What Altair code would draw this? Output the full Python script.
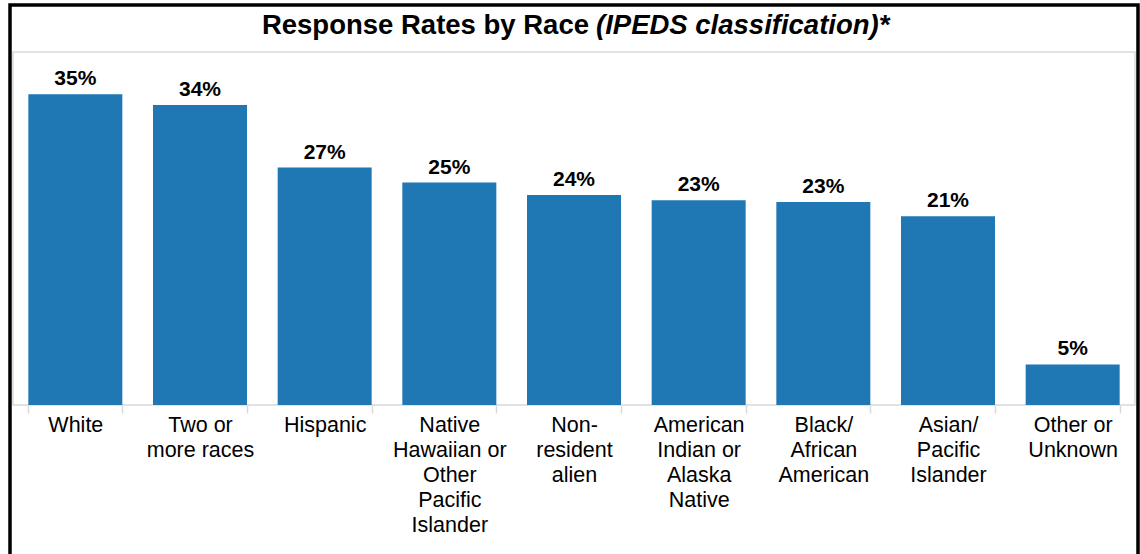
import altair as alt
import pandas as pd

categories = [
    "White",
    "Two or\nmore races",
    "Hispanic",
    "Native\nHawaiian or\nOther\nPacific\nIslander",
    "Non-\nresident\nalien",
    "American\nIndian or\nAlaska\nNative",
    "Black/\nAfrican\nAmerican",
    "Asian/\nPacific\nIslander",
    "Other or\nUnknown",
]
rates = [35.2, 34.0, 26.9, 25.2, 23.8, 23.2, 23.0, 21.4, 4.6]

title_main = "Response Rates by Race"
title_italic = "(IPEDS classification)*"

FONT = "Liberation Sans"
W, H = 1122, 353

df = pd.DataFrame({"race": categories, "rate": rates})

x_enc = alt.X(
    "race:N",
    sort=None,
    title=None,
    scale=alt.Scale(paddingInner=0.246, paddingOuter=0.123),
    axis=alt.Axis(
        labelAngle=0,
        labelExpr="split(datum.label, '\\n')",
        labelFont=FONT,
        labelFontSize=21.5,
        labelColor="#000000",
        labelLineHeight=25,
        labelPadding=1,
        labelLimit=300,
        labelOverlap=False,
        labelBaseline="top",
        tickBand="extent",
        tickSize=8,
        tickColor="#d9d9d9",
        tickWidth=1.5,
        domain=False,
        grid=False,
    ),
)
y_enc = alt.Y("rate:Q", scale=alt.Scale(domain=[0, 40]), axis=None)

bars = alt.Chart(df).mark_bar(color="#1f77b4").encode(x=x_enc, y=y_enc)

labels = (
    alt.Chart(df)
    .transform_calculate(lbl="format(datum.rate, '.0f') + '%'")
    .mark_text(font=FONT, fontSize=21, fontWeight="bold", color="#000000",
               baseline="alphabetic", dy=-9)
    .encode(x=alt.X("race:N", sort=None), y="rate:Q", text="lbl:N")
)

t1 = (
    alt.Chart(pd.DataFrame({"t": [title_main]}))
    .mark_text(font=FONT, fontSize=27.5, fontWeight="bold", color="#000000",
               align="right", baseline="alphabetic")
    .encode(x=alt.value(576), y=alt.value(-18), text="t:N")
)
t2 = (
    alt.Chart(pd.DataFrame({"t": [title_italic]}))
    .mark_text(font=FONT, fontSize=27.5, fontWeight="bold", fontStyle="italic",
               color="#000000", align="left", baseline="alphabetic")
    .encode(x=alt.value(583), y=alt.value(-18), text="t:N")
)

border = (
    alt.Chart(pd.DataFrame({"b": [1]}))
    .mark_rect(filled=False, stroke="#000000", strokeWidth=3.5)
    .encode(x=alt.value(-3), x2=alt.value(1125), y=alt.value(-47), y2=alt.value(700))
)

chart = (
    alt.layer(bars, labels, t1, t2, border)
    .properties(
        width=W,
        height=H,
        autosize=alt.AutoSizeParams(type="none"),
        padding={"left": 13, "top": 52, "right": 5, "bottom": 149},
        background="#ffffff",
    )
    .configure_view(stroke="#d9d9d9", strokeWidth=1.5)
)

chart.save("out.html", embed_options={"renderer": "svg", "actions": False})
